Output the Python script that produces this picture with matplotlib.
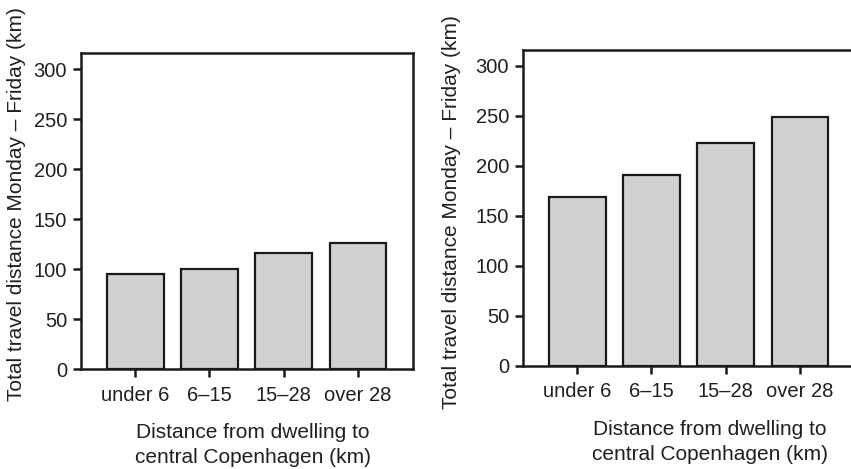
import matplotlib.pyplot as plt

plt.rcParams['font.family'] = ['Liberation Sans', 'DejaVu Sans']

categories = ['under 6', '6–15', '15–28', 'over 28']
left_values = [95, 100, 116, 126]
right_values = [169, 191, 223, 249]

ylabel = 'Total travel distance Monday – Friday (km)'
xlabel = 'Distance from dwelling to\ncentral Copenhagen (km)'

fig = plt.figure(figsize=(8.51, 4.69), dpi=100)


def draw_panel(rect, values):
    ax = fig.add_axes(rect)
    ax.bar(range(len(values)), values, width=0.765, color='#d0d1d3',
           edgecolor='#1a1a1a', linewidth=1.6)
    ax.set_xlim(-0.73, 3.74)
    ax.set_ylim(0, 316)
    ax.set_yticks([0, 50, 100, 150, 200, 250, 300])
    ax.set_xticks(range(len(values)))
    ax.set_xticklabels(categories)
    for s in ax.spines.values():
        s.set_linewidth(1.8)
        s.set_color('#1a1a1a')
    ax.tick_params(axis='both', direction='out', length=6, width=1.8,
                   labelsize=14.5, color='#1a1a1a', labelcolor='#231f20')
    ax.tick_params(axis='x', pad=6)
    ax.tick_params(axis='y', pad=4)
    return ax


ax1 = draw_panel([81 / 851, 100 / 469, 332 / 851, 316 / 469], left_values)
ax2 = draw_panel([523 / 851, 103.3 / 469, 332 / 851, 315.7 / 469], right_values)

fig.text(17 / 851, 1 - 204 / 469, ylabel, rotation=90, ha='center', va='center',
         fontsize=15, color='#231f20')
fig.text(452 / 851, 1 - 212 / 469, ylabel, rotation=90, ha='center', va='center',
         fontsize=15, color='#231f20')
fig.text(253 / 851, 1 - 445 / 469, xlabel, ha='center', va='center',
         fontsize=15, color='#231f20', linespacing=1.35)
fig.text(710 / 851, 1 - 442 / 469, xlabel, ha='center', va='center',
         fontsize=15, color='#231f20', linespacing=1.35)

fig.savefig('out.png', dpi=100)
